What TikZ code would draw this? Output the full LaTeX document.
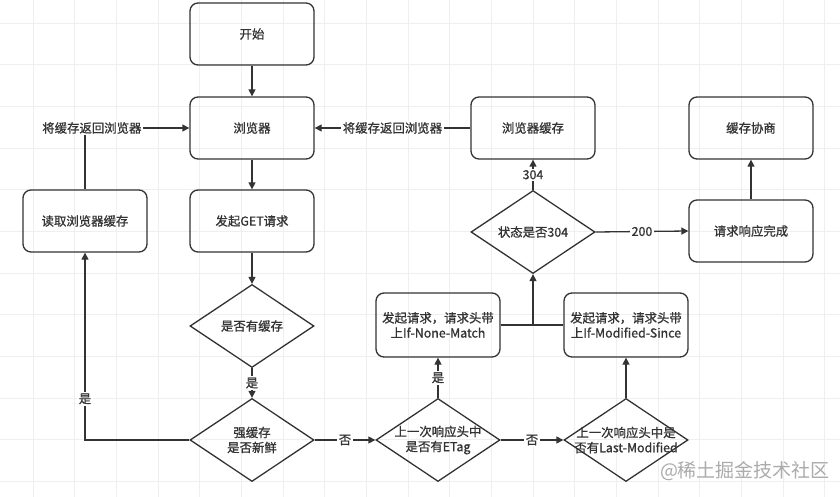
\documentclass[tikz,border=0pt]{standalone}
\usepackage{fontspec}
\setmainfont{Noto Sans CJK SC}
\newfontfamily\medfont{Noto Sans CJK SC}[FakeBold=0.9]
\usetikzlibrary{shapes.geometric,arrows.meta}
\definecolor{ink}{HTML}{333333}
\definecolor{gridc}{HTML}{EFEFEF}
\definecolor{wm}{HTML}{ABABAB}
\tikzset{
  base/.style={draw=ink, line width=1.3pt, text=ink, font=\medfont\fontsize{12.4}{15}\selectfont, align=center},
  box/.style={base, rectangle, rounded corners=8pt, minimum width=124pt, minimum height=62pt, inner sep=2pt},
  dia/.style={base, diamond, minimum width=124pt, minimum height=83pt, inner sep=0pt},
  txt/.style={text=ink, font=\medfont\fontsize{12.4}{15}\selectfont, align=center, inner sep=1pt},
  lbl/.style={text=ink, font=\medfont\fontsize{12.4}{15}\selectfont, fill=white, inner sep=1.5pt},
  conn/.style={draw=ink, line width=1.3pt},
  arr/.style={conn, -{Triangle[length=7pt,width=7pt]}}
}
\begin{document}
\begin{tikzpicture}[x=1pt,y=-1pt]
\useasboundingbox (0,0) rectangle (840,497);
\fill[white] (0,0) rectangle (840,497);
% background grid
\foreach \i in {0,...,19} {\draw[gridc, line width=0.8pt] ({33+41.67*\i},0) -- ({33+41.67*\i},497);}
\foreach \j in {0,...,11} {\draw[gridc, line width=0.8pt] (0,{23+41.67*\j}) -- (840,{23+41.67*\j});}

% nodes
\node[box] (start) at (252,34) {开始};
\node[box] (browser) at (252,128) {浏览器};
\node[box] (get) at (252,221) {发起GET请求};
\node[box] (read) at (85,221) {读取浏览器缓存};
\node[dia, label={[txt]center:是否有缓存}] (has) at (252,326) {};
\node[dia, label={[txt]center:强缓存\\是否新鲜}] (fresh) at (252,440) {};
\node[dia, label={[txt]center:上一次响应头中\\是否有ETag}] (etag) at (438,440) {};
\node[dia, label={[txt]center:上一次响应头中是\\否有Last-Modified}] (lm) at (626,440) {};
\node[box, minimum height=64pt] (inm) at (438,325) {发起请求，请求头带\\上If-None-Match};
\node[box, minimum height=64pt] (ims) at (626,325) {发起请求，请求头带\\上If-Modified-Since};
\node[dia, label={[txt]center:状态是否304}] (s304) at (533,232) {};
\node[box] (bcache) at (533,128) {浏览器缓存};
\node[box] (nego) at (751,128) {缓存协商};
\node[box] (done) at (751,231) {请求响应完成};

% connectors
\draw[arr] (start) -- (browser);
\draw[arr] (browser) -- (get);
\draw[arr] (get) -- (has);
\draw[arr] (has) -- node[lbl]{是} (fresh);
\draw[arr] (fresh.west) -| node[lbl, pos=0.61]{是} (read.south);
\draw[arr] (read.north) |- node[lbl, pos=0.533]{将缓存返回浏览器} (browser.west);
\draw[arr] (bcache.west) -- node[lbl]{将缓存返回浏览器} (browser.east);
\draw[arr] (fresh.east) -- node[lbl]{否} (etag.west);
\draw[arr] (etag.east) -- node[lbl]{否} (lm.west);
\draw[arr] (etag.north) -- node[lbl]{是} (inm.south);
\draw[arr] (lm.north) -- (ims.south);
\coordinate (join) at (s304.south |- inm.east);
\draw[conn] (inm.east) -- (ims.west);
\draw[arr] (join) -- (s304.south);
\draw[arr] (s304.north) -- node[lbl]{304} (bcache.south);
\draw[arr] (s304.east) -- node[lbl]{200} (done.west);
\draw[arr] (done.north) -- (nego.south);

% watermark
\node[text=wm, font=\fontsize{19}{22}\selectfont, inner sep=0pt] (wmark) at (745,471) {@稀土掘金技术社区};
\end{tikzpicture}
\end{document}
